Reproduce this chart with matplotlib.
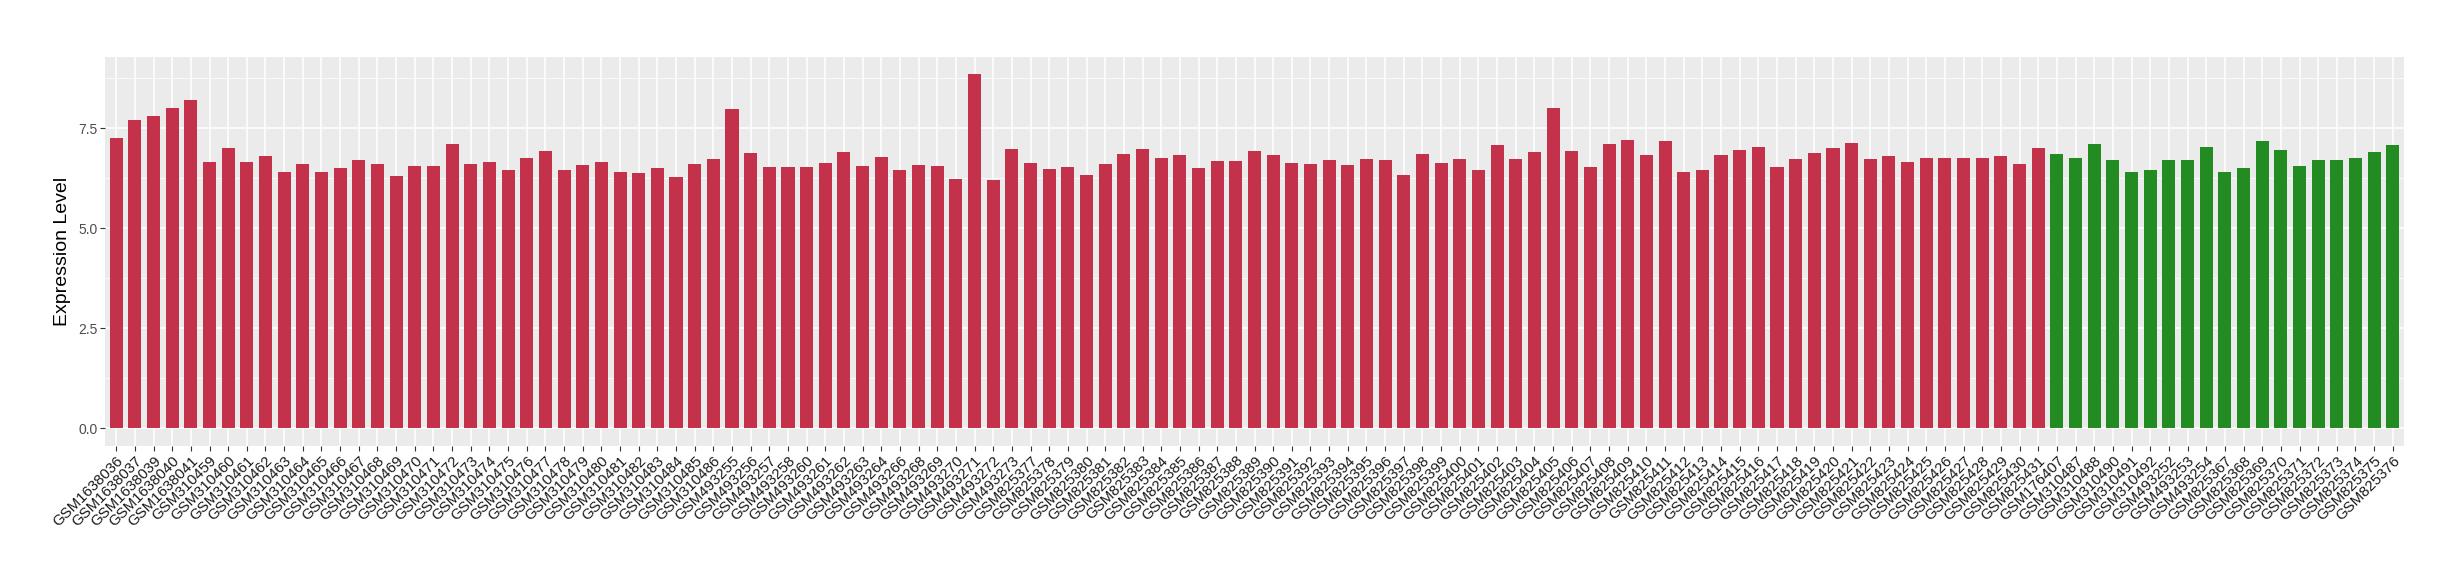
import numpy as np
import matplotlib
matplotlib.use("Agg")
import matplotlib.pyplot as plt

plt.rcParams['font.family'] = ['Liberation Sans', 'DejaVu Sans']

# sample ids, in plot order
samples_a = ["GSM1638036", "GSM1638037", "GSM1638039", "GSM1638040", "GSM1638041"]
samples_b = ["GSM3104%02d" % n for n in range(59, 87)]
samples_c = ["GSM4932" + s for s in ["55", "56", "57", "58", "60", "61", "62", "63",
                                     "64", "66", "68", "69", "70", "71", "72", "73"]]
samples_d = ["GSM825%03d" % n for n in range(377, 432)]
samples_green = ["GSM176407", "GSM310487", "GSM310488", "GSM310490", "GSM310491",
                 "GSM310492", "GSM493252", "GSM493253", "GSM493254", "GSM825367",
                 "GSM825368", "GSM825369", "GSM825370", "GSM825371", "GSM825372",
                 "GSM825373", "GSM825374", "GSM825375", "GSM825376"]

red_values = [7.26, 7.71, 7.81, 8.01, 8.21, 6.64, 7.01, 6.64, 6.81, 6.41,
              6.61, 6.39, 6.51, 6.71, 6.61, 6.31, 6.54, 6.54, 7.11, 6.61,
              6.64, 6.44, 6.74, 6.92, 6.44, 6.57, 6.64, 6.39, 6.37, 6.49,
              6.27, 6.59, 6.72, 7.97, 6.87, 6.52, 6.52, 6.52, 6.62, 6.89,
              6.54, 6.77, 6.44, 6.57, 6.54, 6.22, 8.84, 6.19, 6.97, 6.62,
              6.47, 6.52, 6.32, 6.59, 6.84, 6.97, 6.74, 6.82, 6.49, 6.67,
              6.67, 6.92, 6.82, 6.62, 6.59, 6.69, 6.57, 6.72, 6.69, 6.32,
              6.84, 6.62, 6.72, 6.44, 7.07, 6.72, 6.89, 7.99, 6.92, 6.52,
              7.09, 7.19, 6.82, 7.17, 6.39, 6.44, 6.82, 6.94, 7.02, 6.52,
              6.72, 6.87, 7.00, 7.12, 6.72, 6.79, 6.66, 6.76, 6.76, 6.76,
              6.76, 6.81, 6.59, 6.99]
green_values = [6.84, 6.76, 7.11, 6.69, 6.41, 6.44, 6.71, 6.71, 7.03, 6.41,
                6.51, 7.18, 6.96, 6.56, 6.71, 6.69, 6.76, 6.91, 7.08]

labels = samples_a + samples_b + samples_c + samples_d + samples_green
values = red_values + green_values
colors = ["#C3314A"] * len(red_values) + ["#228B22"] * len(green_values)

fig = plt.figure(figsize=(24.6, 5.8), dpi=100)
ax = fig.add_axes([105/2460, 1 - 446/580, (2404-105)/2460, (446-56.7)/580])

x = np.arange(len(labels))
ax.set_facecolor("#EBEBEB")
ax.set_axisbelow(True)
ax.bar(x, values, width=0.7, color=colors, zorder=3)

top = max(values)
ax.set_xlim(-0.6, len(labels) - 0.4)
ax.set_ylim(-0.05 * top, 1.05 * top)

ax.set_yticks([0, 2.5, 5.0, 7.5])
ax.set_yticklabels(["0.0", "2.5", "5.0", "7.5"], fontsize=10, color="#4D4D4D")
ax.set_yticks([1.25, 3.75, 6.25, 8.75], minor=True)
ax.set_xticks(x)
ax.set_xticklabels(labels, rotation=45, ha="right", va="top", rotation_mode="anchor",
                   fontsize=10.8, color="#1A1A1A")

ax.grid(which="major", color="white", linewidth=1.1)
ax.grid(which="minor", axis="y", color="white", linewidth=0.55)
ax.tick_params(which="major", length=3.3, width=0.8, color="#333333", pad=2)
ax.tick_params(which="minor", length=0)
for s in ax.spines.values():
    s.set_visible(False)

ax.set_ylabel("Expression Level", fontsize=14, labelpad=5)

fig.savefig("out.png", dpi=100)
